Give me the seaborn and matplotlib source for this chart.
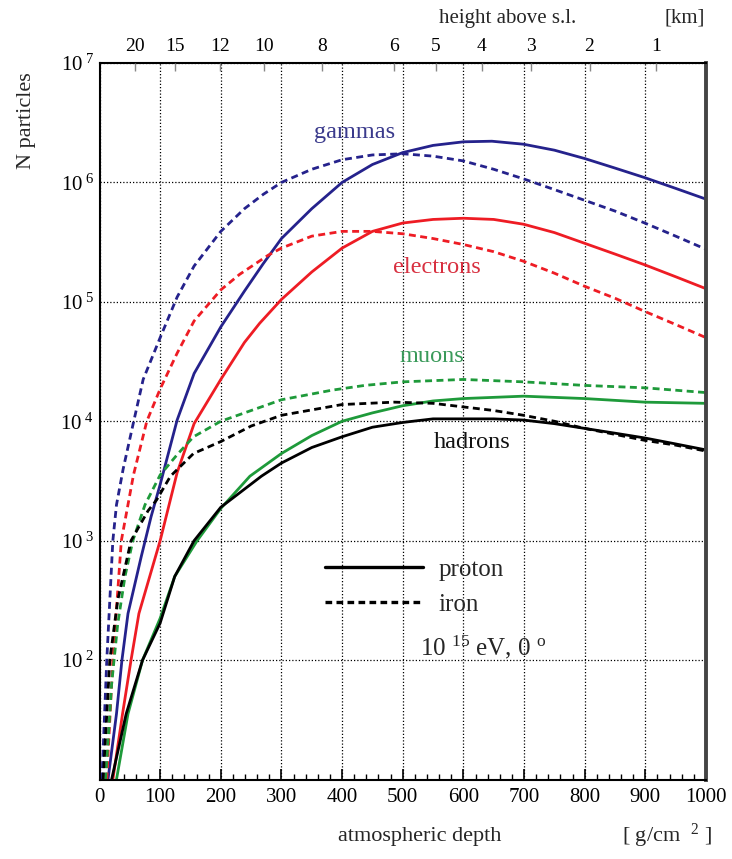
import matplotlib
matplotlib.use("Agg")
import matplotlib.pyplot as plt
from matplotlib.lines import Line2D
from matplotlib.ticker import LogLocator, MultipleLocator, NullFormatter
import numpy as np
import pandas as pd
import seaborn as sns

# ── Data: depth [g/cm^2] and log10(N) ────────────────────────────────────────
GAMMA_P_X = [14, 28, 37, 47, 69, 85, 100, 128, 156, 200, 239, 270, 300, 350, 400,
             450, 500, 550, 600, 647, 699, 750, 800, 850, 899, 950, 1000]
GAMMA_P_L = [1.0, 1.55, 2.0, 2.39, 2.87, 3.2, 3.47, 4.01, 4.40, 4.79, 5.09, 5.32, 5.53,
             5.78, 6.0, 6.15, 6.25, 6.31, 6.34, 6.345, 6.32, 6.27, 6.20, 6.12, 6.04,
             5.95, 5.86]

GAMMA_FE_X = [4, 12, 22, 28, 39, 56, 72, 100, 128, 156, 200, 239, 270, 300, 350,
              400, 450, 500, 550, 600, 650, 699, 750, 800, 850, 899, 950, 1000]
GAMMA_FE_L = [1.0, 2.0, 3.0, 3.3, 3.6, 3.99, 4.35, 4.70, 5.04, 5.30, 5.59, 5.78, 5.90,
              6.0, 6.11, 6.19, 6.23, 6.24, 6.22, 6.18, 6.11, 6.03, 5.94, 5.85, 5.76,
              5.66, 5.55, 5.44]

ELEC_P_X = [22, 38, 52, 65, 100, 128, 156, 200, 239, 264, 300, 350, 400, 450, 500,
            550, 600, 650, 699, 750, 800, 850, 899, 950, 1000]
ELEC_P_L = [1.0, 1.55, 2.0, 2.39, 3.0, 3.57, 3.98, 4.35, 4.66, 4.82, 5.02, 5.25, 5.45,
            5.59, 5.66, 5.69, 5.70, 5.69, 5.65, 5.58, 5.49, 5.40, 5.31, 5.21, 5.11]

ELEC_FE_X = [12, 22, 36, 56, 78, 100, 128, 156, 200, 231, 278, 300, 350, 400, 450,
             500, 550, 600, 650, 699, 750, 800, 850, 899, 950, 1000]
ELEC_FE_L = [1.0, 2.0, 3.0, 3.55, 4.0, 4.27, 4.57, 4.84, 5.10, 5.23, 5.39, 5.45, 5.55,
             5.59, 5.59, 5.57, 5.53, 5.48, 5.42, 5.34, 5.24, 5.13, 5.03, 4.92, 4.81, 4.70]

MUON_P_X = [28, 47, 71, 100, 124, 161, 200, 248, 300, 350, 400, 450, 500, 550, 600,
            699, 800, 899, 1000]
MUON_P_L = [1.0, 1.55, 2.0, 2.35, 2.7, 3.0, 3.27, 3.54, 3.73, 3.88, 4.0, 4.07, 4.13,
            4.17, 4.19, 4.21, 4.19, 4.16, 4.15]

MUON_FE_X = [10, 20, 30, 42, 55, 75, 100, 128, 155, 200, 239, 300, 383, 437, 500,
             600, 699, 800, 899, 1000]
MUON_FE_L = [1.0, 1.8, 2.3, 2.7, 3.0, 3.3, 3.55, 3.72, 3.87, 4.0, 4.07, 4.18, 4.26,
             4.30, 4.33, 4.35, 4.33, 4.30, 4.28, 4.24]

HADR_P_X = [20, 44, 71, 100, 124, 156, 200, 267, 300, 350, 400, 450, 500, 550, 600,
            650, 699, 750, 800, 850, 899, 950, 1000]
HADR_P_L = [1.0, 1.55, 2.0, 2.31, 2.7, 3.0, 3.28, 3.54, 3.65, 3.78, 3.87, 3.95, 3.99,
            4.02, 4.02, 4.02, 4.01, 3.98, 3.94, 3.90, 3.86, 3.81, 3.76]

HADR_FE_X = [6, 17, 30, 52, 80, 94, 117, 155, 200, 250, 300, 400, 486, 550, 600, 650,
             699, 750, 800, 850, 899, 950, 1000]
HADR_FE_L = [1.0, 2.0, 2.5, 3.0, 3.25, 3.34, 3.54, 3.73, 3.83, 3.96, 4.05, 4.14, 4.16,
             4.15, 4.12, 4.09, 4.05, 4.0, 3.94, 3.89, 3.84, 3.80, 3.75]

# top axis: height above sea level [km] and matching depth [g/cm^2]
KM_LABELS = ["20", "15", "12", "10", "8", "6", "5", "4", "3", "2", "1"]
KM_DEPTHS = [58, 124, 199, 272, 367, 486, 554, 630, 712, 808, 917]

# curve labels: text, depth, N
CURVE_LABELS = ["gammas", "electrons", "muons", "hadrons"]
LABEL_X = [421, 556, 548, 614]
LABEL_N = [2.6e6, 1.93e5, 3.5e4, 6.6e3]

COLORS = {"gammas": "#25228c", "electrons": "#ee1c24", "muons": "#1e9a3a", "hadrons": "#000000"}
TEXT_COLORS = {"gammas": "#3a3a8c", "electrons": "#d83040", "muons": "#3a9a5a", "hadrons": "#111111"}

SERIF = "Liberation Serif"


def build_frame():
    rows = []
    series = [
        ("gammas", "proton", GAMMA_P_X, GAMMA_P_L),
        ("gammas", "iron", GAMMA_FE_X, GAMMA_FE_L),
        ("electrons", "proton", ELEC_P_X, ELEC_P_L),
        ("electrons", "iron", ELEC_FE_X, ELEC_FE_L),
        ("muons", "proton", MUON_P_X, MUON_P_L),
        ("muons", "iron", MUON_FE_X, MUON_FE_L),
        ("hadrons", "proton", HADR_P_X, HADR_P_L),
        ("hadrons", "iron", HADR_FE_X, HADR_FE_L),
    ]
    for particle, primary, xs, ls in series:
        for x, l in zip(xs, ls):
            rows.append({"depth": x, "N": 10 ** l, "particle": particle, "primary": primary})
    return pd.DataFrame(rows)


def main():
    sns.set_theme(style="white")
    plt.rcParams.update({
        "font.family": [SERIF, "DejaVu Serif"],
        "mathtext.fontset": "custom",
        "mathtext.rm": SERIF,
        "mathtext.it": SERIF + ":italic",
        "mathtext.default": "regular",
        "axes.edgecolor": "black",
        "xtick.color": "black",
        "ytick.color": "black",
    })

    df = build_frame()

    fig = plt.figure(figsize=(7.32, 8.59), dpi=100)
    ax = fig.add_axes([99.5 / 732, (859 - 779.5) / 859, (706 - 99.5) / 732, (779.5 - 63) / 859])

    sns.lineplot(
        data=df, x="depth", y="N", hue="particle", style="primary",
        palette=COLORS, dashes={"proton": "", "iron": (2.5, 1.6)},
        estimator=None, sort=False, legend=False, lw=2.0, ax=ax,
    )

    ax.set_yscale("log")
    ax.set_xlim(0, 1000)
    ax.set_ylim(10, 1e7)

    # axes ticks
    ax.xaxis.set_major_locator(MultipleLocator(100))
    ax.xaxis.set_minor_locator(MultipleLocator(20))
    ax.set_yticks([1e2, 1e3, 1e4, 1e5, 1e6, 1e7])
    ax.set_yticklabels([f"10$^{{\\ {e}}}$" for e in range(2, 8)])
    ax.yaxis.set_minor_locator(LogLocator(base=10, subs=np.arange(2, 10)))
    ax.yaxis.set_minor_formatter(NullFormatter())
    ax.tick_params(axis="both", which="major", direction="in", length=8, width=1.2,
                   labelsize=15, pad=6)
    ax.tick_params(axis="both", which="minor", direction="in", length=4, width=1.0)
    ax.tick_params(axis="y", which="major", pad=4)
    ax.tick_params(top=False, right=False, which="both")

    ax.grid(True, which="major", color="black", linestyle=(0, (1, 1.6)), linewidth=0.9)
    ax.set_xlabel("")
    ax.set_ylabel("")

    for side in ["left", "bottom", "top"]:
        ax.spines[side].set_linewidth(1.5)
    ax.spines["right"].set_linewidth(2.8)
    ax.spines["right"].set_color("#444444")

    # top axis in km
    top = ax.twiny()
    top.set_xlim(ax.get_xlim())
    top.set_xticks(KM_DEPTHS)
    top.set_xticklabels(KM_LABELS)
    top.tick_params(axis="x", direction="in", length=6, width=1.0, color="#888888",
                    labelsize=14, pad=6)
    top.grid(False)
    for side in top.spines:
        top.spines[side].set_visible(False)

    # curve labels
    for name, x, n in zip(CURVE_LABELS, LABEL_X, LABEL_N):
        ax.text(x, n, name, color=TEXT_COLORS[name], fontsize=17.5,
                ha="center", va="center")

    # legend for primary type
    handles = [Line2D([], [], color="black", lw=2.4),
               Line2D([], [], color="black", lw=2.4, dashes=(2.0, 1.3))]
    ax.legend(handles, ["proton", "iron"], loc="center left",
              bbox_to_anchor=(0.372, 0.269), frameon=False, fontsize=18,
              handlelength=3.9, handletextpad=0.65, labelspacing=0.5,
              borderaxespad=0, borderpad=0)
    ax.text(0.528, 0.185, r"10 $^{15}$ eV, 0 $^{\rm o}$", transform=ax.transAxes,
            fontsize=18, ha="left", va="center")

    # axis titles
    fig.text(26 / 732, 1 - 121 / 859, "N particles", rotation=90, fontsize=16,
             ha="center", va="center")
    fig.text(508 / 732, 1 - 18 / 859, "height above s.l.", fontsize=15,
             ha="center", va="center")
    fig.text(685 / 732, 1 - 18 / 859, "[km]", fontsize=15, ha="center", va="center")
    fig.text(420 / 732, 1 - 836 / 859, "atmospheric depth", fontsize=16,
             ha="center", va="center")
    fig.text(667 / 732, 1 - 836 / 859, r"[ g/cm  $^{2}$ ]", fontsize=16,
             ha="center", va="center")

    fig.savefig("out.png", dpi=100, facecolor="white")
    plt.close(fig)


if __name__ == "__main__":
    main()
